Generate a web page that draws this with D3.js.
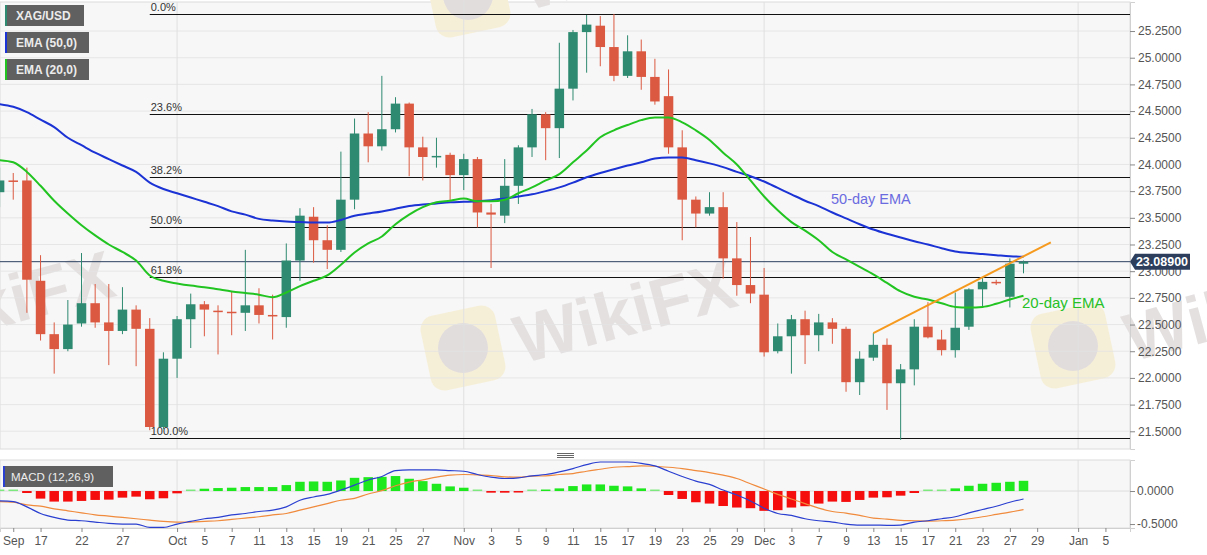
<!DOCTYPE html>
<html>
<head>
<meta charset="utf-8">
<script src="https://cdnjs.cloudflare.com/ajax/libs/d3/7.8.5/d3.min.js"></script>
<style>
body { margin: 0; background: #fff; }
text { font-family: "Liberation Sans", Arial, sans-serif; }
</style>
</head>
<body>
<div id="chart"></div>
<script>
// trading days shown on the x axis (candles use the first 76)
var days = [
  "2021-09-14","2021-09-15","2021-09-16","2021-09-17","2021-09-20","2021-09-21","2021-09-22","2021-09-23","2021-09-24",
  "2021-09-27","2021-09-28","2021-09-29","2021-09-30",
  "2021-10-01","2021-10-04","2021-10-05","2021-10-06","2021-10-07","2021-10-08","2021-10-11","2021-10-12","2021-10-13",
  "2021-10-14","2021-10-15","2021-10-18","2021-10-19","2021-10-20","2021-10-21","2021-10-22","2021-10-25","2021-10-26",
  "2021-10-27","2021-10-28","2021-10-29",
  "2021-11-01","2021-11-02","2021-11-03","2021-11-04","2021-11-05","2021-11-08","2021-11-09","2021-11-10","2021-11-11",
  "2021-11-12","2021-11-15","2021-11-16","2021-11-17","2021-11-18","2021-11-19","2021-11-22","2021-11-23","2021-11-24",
  "2021-11-25","2021-11-26","2021-11-29","2021-11-30",
  "2021-12-01","2021-12-02","2021-12-03","2021-12-06","2021-12-07","2021-12-08","2021-12-09","2021-12-10","2021-12-13",
  "2021-12-14","2021-12-15","2021-12-16","2021-12-17","2021-12-20","2021-12-21","2021-12-22","2021-12-23","2021-12-24",
  "2021-12-27","2021-12-28","2021-12-29","2021-12-30","2021-12-31",
  "2022-01-03","2022-01-04","2022-01-05"
];

var open = [23.74,23.85,23.85,22.91,22.41,22.27,22.51,22.70,22.52,22.44,22.64,22.46,21.54,22.18,22.55,22.69,22.63,22.62,22.61,22.68,
  22.59,22.57,23.10,23.51,23.29,23.20,23.67,24.29,24.17,24.33,24.57,24.16,24.07,24.09,23.90,24.05,23.55,23.52,23.80,24.16,
  24.47,24.34,24.71,25.24,25.30,25.10,24.83,25.06,24.82,24.64,24.16,23.67,23.54,23.60,23.12,22.87,22.78,22.25,22.39,22.55,
  22.40,22.52,22.46,21.96,22.19,22.31,21.95,22.08,22.48,22.36,22.26,22.48,22.83,22.90,22.76,23.07];
var high = [23.97,23.92,23.97,23.15,22.52,22.73,23.17,22.88,22.88,22.85,22.68,22.56,22.24,22.58,22.79,22.72,22.68,22.81,23.20,22.84,
  22.78,23.26,23.59,23.60,23.43,24.12,24.43,24.49,24.83,24.63,24.58,24.26,24.25,24.11,24.10,24.07,23.63,24.05,24.18,24.52,
  24.49,25.14,25.26,25.40,25.39,25.41,25.21,25.17,24.99,24.89,24.32,23.70,23.74,23.74,23.46,23.32,23.03,22.51,22.59,22.63,
  22.60,22.56,22.48,22.25,22.42,22.37,22.13,22.55,22.71,22.45,22.80,22.84,22.94,22.92,23.12,23.10];
var low = [23.60,23.67,22.61,22.35,22.04,22.25,22.48,22.47,22.12,22.41,22.11,21.51,21.52,22.00,22.28,22.39,22.22,22.40,22.44,22.51,
  22.36,22.47,22.91,23.08,23.02,23.18,23.58,24.02,24.13,24.30,23.89,23.85,23.97,23.66,23.76,23.41,23.03,23.45,23.63,24.07,
  24.04,24.06,24.60,24.86,24.92,24.78,24.81,24.70,24.56,24.10,23.29,23.41,23.52,22.93,22.77,22.70,22.20,22.23,22.04,22.13,
  22.25,22.32,21.87,21.84,22.16,21.70,21.42,21.93,22.37,22.21,22.19,22.45,22.67,22.87,22.66,22.98];
var close = [23.85,23.84,22.92,22.41,22.27,22.50,22.70,22.52,22.44,22.64,22.46,21.54,22.18,22.55,22.69,22.64,22.62,22.61,22.68,22.59,
  22.58,23.10,23.52,23.29,23.20,23.67,24.29,24.17,24.33,24.57,24.16,24.07,24.08,23.90,24.05,23.55,23.53,23.80,24.16,24.47,
  24.34,24.71,25.24,25.31,25.10,24.83,25.06,24.82,24.59,24.16,23.67,23.54,23.60,23.12,22.87,22.79,22.24,22.39,22.55,22.40,
  22.52,22.46,21.96,22.18,22.31,21.95,22.08,22.48,22.38,22.26,22.47,22.83,22.90,22.89,23.07,23.089];

var ema50 = [24.565,24.54,24.49,24.42,24.35,24.25,24.18,24.11,24.05,23.99,23.93,23.83,23.77,23.73,23.69,23.65,23.61,23.56,23.53,23.49,
  23.475,23.465,23.46,23.455,23.455,23.48,23.52,23.54,23.56,23.585,23.61,23.625,23.635,23.645,23.65,23.655,23.665,23.68,23.70,23.72,
  23.75,23.785,23.83,23.88,23.92,23.955,23.99,24.02,24.055,24.065,24.065,24.04,24.01,23.975,23.93,23.89,23.84,23.78,23.72,23.66,
  23.61,23.55,23.495,23.44,23.39,23.35,23.315,23.28,23.25,23.215,23.185,23.17,23.16,23.15,23.14,23.135];
var ema20 = [24.04,24.02,23.93,23.80,23.66,23.54,23.43,23.335,23.25,23.18,23.10,22.96,22.91,22.885,22.865,22.85,22.83,22.81,22.795,22.78,
  22.755,22.80,22.86,22.91,22.96,23.06,23.175,23.26,23.325,23.44,23.53,23.60,23.645,23.66,23.68,23.655,23.655,23.67,23.73,23.785,
  23.85,23.91,24.02,24.13,24.255,24.32,24.37,24.415,24.44,24.44,24.395,24.32,24.23,24.11,24.0,23.85,23.70,23.57,23.46,23.38,
  23.29,23.18,23.11,23.04,22.97,22.89,22.81,22.76,22.735,22.70,22.665,22.66,22.665,22.695,22.735,22.77];

var macdLine = [-0.15,-0.16,-0.24,-0.34,-0.40,-0.44,-0.45,-0.47,-0.49,-0.50,-0.50,-0.55,-0.55,-0.50,-0.46,-0.42,-0.40,-0.36,-0.34,-0.31,
  -0.29,-0.24,-0.14,-0.09,-0.05,0.015,0.09,0.167,0.22,0.31,0.32,0.32,0.32,0.31,0.30,0.25,0.21,0.19,0.20,0.23,
  0.25,0.29,0.34,0.40,0.44,0.44,0.44,0.42,0.38,0.30,0.22,0.15,0.10,0.015,-0.06,-0.15,-0.26,-0.34,-0.37,-0.42,
  -0.45,-0.47,-0.50,-0.515,-0.515,-0.52,-0.515,-0.47,-0.45,-0.42,-0.39,-0.33,-0.28,-0.23,-0.17,-0.12];
var signalLine = [-0.16,-0.17,-0.21,-0.23,-0.27,-0.30,-0.33,-0.36,-0.38,-0.40,-0.42,-0.44,-0.46,-0.47,-0.47,-0.46,-0.45,-0.43,-0.41,-0.39,
  -0.36,-0.34,-0.29,-0.24,-0.19,-0.14,-0.11,-0.045,0.005,0.08,0.135,0.17,0.21,0.24,0.25,0.245,0.235,0.215,0.21,0.225,
  0.23,0.25,0.265,0.30,0.33,0.36,0.37,0.38,0.375,0.36,0.34,0.31,0.28,0.24,0.19,0.11,0.03,-0.05,-0.12,-0.19,
  -0.26,-0.31,-0.335,-0.37,-0.41,-0.425,-0.445,-0.45,-0.455,-0.45,-0.44,-0.42,-0.39,-0.355,-0.32,-0.28];
var histogram = [0.01,0.01,-0.03,-0.115,-0.16,-0.16,-0.15,-0.135,-0.13,-0.10,-0.085,-0.125,-0.11,-0.035,0.005,0.035,0.045,0.05,0.06,0.06,
  0.06,0.09,0.14,0.145,0.14,0.16,0.20,0.21,0.215,0.227,0.186,0.15,0.11,0.07,0.05,0.005,-0.025,-0.025,-0.01,0.005,
  0.02,0.04,0.075,0.10,0.10,0.08,0.07,0.04,0.005,-0.06,-0.12,-0.17,-0.19,-0.227,-0.25,-0.26,-0.30,-0.29,-0.25,-0.23,
  -0.19,-0.16,-0.165,-0.135,-0.10,-0.095,-0.07,-0.03,0.003,0.01,0.04,0.08,0.11,0.125,0.14,0.155];

var tickDays = ["2021-09-15","2021-09-17","2021-09-22","2021-09-27","2021-10-01","2021-10-05","2021-10-07","2021-10-11","2021-10-13",
  "2021-10-15","2021-10-19","2021-10-21","2021-10-25","2021-10-27","2021-11-01","2021-11-03","2021-11-05","2021-11-09","2021-11-11",
  "2021-11-15","2021-11-17","2021-11-19","2021-11-23","2021-11-25","2021-11-29","2021-12-01","2021-12-03","2021-12-07","2021-12-09",
  "2021-12-13","2021-12-15","2021-12-17","2021-12-21","2021-12-23","2021-12-27","2021-12-29","2022-01-03","2022-01-05"];
var tickNames = ["Sep","17","22","27","Oct","5","7","11","13","15","19","21","25","27","Nov","3","5","9","11",
  "15","17","19","23","25","29","Dec","3","7","9","13","15","17","21","23","27","29","Jan","5"];
var monthDays = ["2021-10-01","2021-11-01","2021-12-01","2022-01-03"];

var priceTicks = [21.5,21.75,22,22.25,22.5,22.75,23,23.25,23.5,23.75,24,24.25,24.5,24.75,25,25.25];
var macdTicks = [0, -0.5];

var fibLabels = ["0.0%","23.6%","38.2%","50.0%","61.8%","100.0%"];
var fibValues = [25.41, 24.468, 23.886, 23.415, 22.944, 21.44];
var fibStartDay = "2021-09-29";

var trendDays = ["2021-12-13","2021-12-30"];
var trendValues = [22.42, 23.27];
var lastPrice = 23.089;

// layout
var svgWidth = 1207;
var svgHeight = 555;
var plotRight = 1130;
var mainTop = 2, mainBottom = 449;
var macdTop = 460, macdBottom = 528;

var svg = d3.select("#chart")
    .append("svg")
    .attr("width", svgWidth)
    .attr("height", svgHeight);

var dayIndex = {};
days.forEach(function (d, i) { dayIndex[d] = i; });

var x = d3.scaleLinear().domain([0.03, 82.8]).range([0, plotRight]);
var y = d3.scaleLinear().domain([21.334, 25.522]).range([mainBottom, mainTop]);
var my = d3.scaleLinear().domain([-0.56, 0.47]).range([macdBottom, macdTop]);

var green = "#2e8a70", red = "#db5941";
var bodyW = 9.5;

svg.append("defs").append("clipPath").attr("id", "mainClip")
    .append("rect").attr("x", 0).attr("y", mainTop).attr("width", plotRight).attr("height", mainBottom - mainTop);
svg.select("defs").append("clipPath").attr("id", "macdClip")
    .append("rect").attr("x", 0).attr("y", macdTop).attr("width", plotRight).attr("height", macdBottom - macdTop);

// panel backgrounds
svg.append("rect").attr("x", 0).attr("y", mainTop).attr("width", plotRight).attr("height", mainBottom - mainTop)
    .attr("fill", "#f7f7f7").attr("stroke", "#dcdcdc");
svg.append("rect").attr("x", 0).attr("y", macdTop).attr("width", plotRight).attr("height", macdBottom - macdTop)
    .attr("fill", "#f7f7f7").attr("stroke", "#dcdcdc");

// watermark (faint, behind the grid)
function watermark(dx, dy) {
    var g = svg.append("g").attr("transform", "translate(" + dx + "," + dy + ")");
    g.append("rect").attr("x", 425).attr("y", 310).attr("width", 76).attr("height", 76).attr("rx", 14)
        .attr("fill", "#f6efd8").attr("transform", "rotate(-12,463,348)");
    g.append("circle").attr("cx", 463).attr("cy", 348).attr("r", 25).attr("fill", "#e2dddd");
    g.append("text").attr("x", 522).attr("y", 364).attr("font-size", 68).attr("font-weight", "bold")
        .attr("fill", "#e4e0e0").attr("transform", "rotate(-15,522,364)").text("WikiFX");
}
watermark(0, 0);
watermark(610, -2);
watermark(-622, -10);
watermark(5, -353);

// grid
svg.append("g").selectAll("line").data(priceTicks).enter().append("line")
    .attr("x1", 0).attr("x2", plotRight)
    .attr("y1", d => y(d)).attr("y2", d => y(d))
    .attr("stroke", "#e4e4e4").attr("opacity", 0.85);
svg.append("g").selectAll("line").data(monthDays).enter().append("line")
    .attr("x1", d => x(dayIndex[d])).attr("x2", d => x(dayIndex[d]))
    .attr("y1", mainTop).attr("y2", mainBottom)
    .attr("stroke", "#e0e0e0");
svg.append("g").selectAll("line").data(monthDays).enter().append("line")
    .attr("x1", d => x(dayIndex[d])).attr("x2", d => x(dayIndex[d]))
    .attr("y1", macdTop).attr("y2", macdBottom)
    .attr("stroke", "#e0e0e0");

// fibonacci levels
var fibX = x(dayIndex[fibStartDay]);
var fib = svg.append("g");
fib.selectAll("line").data(fibValues).enter().append("line")
    .attr("x1", fibX).attr("x2", plotRight)
    .attr("y1", d => Math.round(y(d)) + 0.5).attr("y2", d => Math.round(y(d)) + 0.5)
    .attr("stroke", "#111").attr("stroke-width", 1);
fib.selectAll("text").data(fibLabels).enter().append("text")
    .attr("x", fibX + 1).attr("y", (d, i) => y(fibValues[i]) - 3)
    .attr("font-size", 11).attr("fill", "#333").text(d => d);

// current price line
svg.append("line").attr("x1", 0).attr("x2", plotRight)
    .attr("y1", y(lastPrice)).attr("y2", y(lastPrice))
    .attr("stroke", "#2d4262").attr("stroke-width", 1);

// candles
var candles = svg.append("g").attr("clip-path", "url(#mainClip)");
var idx = d3.range(open.length);
candles.selectAll("line.wick").data(idx).enter().append("line")
    .attr("class", "wick")
    .attr("x1", i => x(i)).attr("x2", i => x(i))
    .attr("y1", i => y(high[i])).attr("y2", i => y(low[i]))
    .attr("stroke", i => close[i] >= open[i] ? green : red).attr("stroke-width", 1);
candles.selectAll("rect.body").data(idx).enter().append("rect")
    .attr("class", "body")
    .attr("x", i => x(i) - bodyW / 2)
    .attr("y", i => y(Math.max(open[i], close[i])))
    .attr("width", bodyW)
    .attr("height", i => Math.max(1.5, Math.abs(y(open[i]) - y(close[i]))))
    .attr("fill", i => close[i] >= open[i] ? green : red);

// EMAs
var emaLine = d3.line().x((d, i) => x(i)).y(d => y(d)).curve(d3.curveMonotoneX);
candles.append("path").datum(ema50).attr("d", emaLine)
    .attr("fill", "none").attr("stroke", "#1b32d4").attr("stroke-width", 2);
candles.append("path").datum(ema20).attr("d", emaLine)
    .attr("fill", "none").attr("stroke", "#22c422").attr("stroke-width", 2);

// trend line
candles.append("line")
    .attr("x1", x(dayIndex[trendDays[0]])).attr("y1", y(trendValues[0]))
    .attr("x2", x(dayIndex[trendDays[1]])).attr("y2", y(trendValues[1]))
    .attr("stroke", "#f59a1e").attr("stroke-width", 2);

svg.append("text").attr("x", 831).attr("y", 204).attr("font-size", 14.5).attr("fill", "#6b6be0").text("50-day EMA");
svg.append("text").attr("x", 1022).attr("y", 308).attr("font-size", 15).attr("fill", "#27c027").text("20-day EMA");

// price axis
var yAxis = svg.append("g").attr("transform", "translate(" + plotRight + ",0)")
    .call(d3.axisRight(y).tickValues(priceTicks).tickFormat(d3.format(".4f")).tickSize(5).tickPadding(3));
yAxis.select(".domain").attr("stroke", "#d0d0d0");
yAxis.selectAll(".tick line").attr("stroke", "#888");
yAxis.selectAll("text").attr("font-size", 12).attr("fill", "#555").attr("font-family", "Liberation Sans, Arial, sans-serif");

// last price tag
var ly = y(lastPrice);
svg.append("path")
    .attr("d", "M" + plotRight + "," + ly + " L" + (plotRight + 5) + "," + (ly - 8) + " L" + 1190 + "," + (ly - 8) +
        " L" + 1190 + "," + (ly + 8) + " L" + (plotRight + 5) + "," + (ly + 8) + " Z")
    .attr("fill", "#2c3e5c");
svg.append("text").attr("x", 1162).attr("y", ly + 4.5).attr("text-anchor", "middle")
    .attr("font-size", 12.5).attr("font-weight", "bold").attr("fill", "#fff").text(lastPrice.toFixed(5));

// legends
function legendBox(yy, w, label, stripe) {
    svg.append("rect").attr("x", 5).attr("y", yy).attr("width", w).attr("height", 21).attr("fill", "#606060");
    svg.append("rect").attr("x", 5).attr("y", yy).attr("width", 2).attr("height", 21).attr("fill", stripe);
    svg.append("text").attr("x", 16).attr("y", yy + 15).attr("font-size", 12).attr("font-weight", "bold")
        .attr("fill", "#ececec").text(label);
}
legendBox(5, 79, "XAG/USD", green);
legendBox(32, 84, "EMA (50,0)", "#1b32d4");
legendBox(59, 84, "EMA (20,0)", "#22c422");

// panel handle
svg.append("g").selectAll("line").data([0, 1, 2]).enter().append("line")
    .attr("x1", 557).attr("x2", 574)
    .attr("y1", d => 453.5 + d * 2).attr("y2", d => 453.5 + d * 2)
    .attr("stroke", "#666").attr("stroke-width", 1);

// MACD panel
var macdG = svg.append("g").attr("clip-path", "url(#macdClip)");
macdG.append("line").attr("x1", 0).attr("x2", plotRight).attr("y1", my(0)).attr("y2", my(0)).attr("stroke", "#dddddd");
macdG.selectAll("rect").data(histogram).enter().append("rect")
    .attr("x", (d, i) => x(i) - bodyW / 2)
    .attr("y", d => d >= 0 ? my(d) - (Math.abs(my(d) - my(0)) < 1.5 ? 1.5 - Math.abs(my(d) - my(0)) : 0) : my(0))
    .attr("width", bodyW)
    .attr("height", d => Math.max(1.5, Math.abs(my(d) - my(0))))
    .attr("fill", d => d >= 0 ? (Math.abs(d) < 0.012 ? "#7de87d" : "#1ee81e") : "#f50d0d");
var macdPath = d3.line().x((d, i) => x(i)).y(d => my(d)).curve(d3.curveMonotoneX);
macdG.append("path").datum(signalLine).attr("d", macdPath)
    .attr("fill", "none").attr("stroke", "#f08a3c").attr("stroke-width", 1.2);
macdG.append("path").datum(macdLine).attr("d", macdPath)
    .attr("fill", "none").attr("stroke", "#2a3fd0").attr("stroke-width", 1.2);

var macdAxis = svg.append("g").attr("transform", "translate(" + plotRight + ",0)")
    .call(d3.axisRight(my).tickValues(macdTicks).tickFormat(d => d.toFixed(4)).tickSize(5).tickPadding(2));
macdAxis.select(".domain").attr("stroke", "#d0d0d0");
macdAxis.selectAll(".tick line").attr("stroke", "#888");
macdAxis.selectAll("text").attr("font-size", 12).attr("fill", "#555").attr("font-family", "Liberation Sans, Arial, sans-serif");

svg.append("rect").attr("x", 3).attr("y", 466).attr("width", 110).attr("height", 21).attr("fill", "#606060");
svg.append("rect").attr("x", 3).attr("y", 466).attr("width", 2).attr("height", 21).attr("fill", "#2a3fd0");
svg.append("text").attr("x", 11).attr("y", 481).attr("font-size", 11.5)
    .attr("font-family", "Liberation Sans Narrow, Liberation Sans, Arial, sans-serif")
    .attr("fill", "#eeeeee").text("MACD (12,26,9)");

// x axis
var xAxis = svg.append("g").attr("transform", "translate(0," + macdBottom + ")")
    .call(d3.axisBottom(x).tickValues(tickDays.map(d => dayIndex[d]))
        .tickFormat((d, i) => tickNames[i]).tickSize(4).tickPadding(4));
xAxis.select(".domain").attr("stroke", "#d0d0d0");
xAxis.selectAll(".tick line").attr("stroke", "#888");
xAxis.selectAll("text").attr("font-size", 12).attr("fill", "#555").attr("font-family", "Liberation Sans, Arial, sans-serif");
</script>
</body>
</html>
